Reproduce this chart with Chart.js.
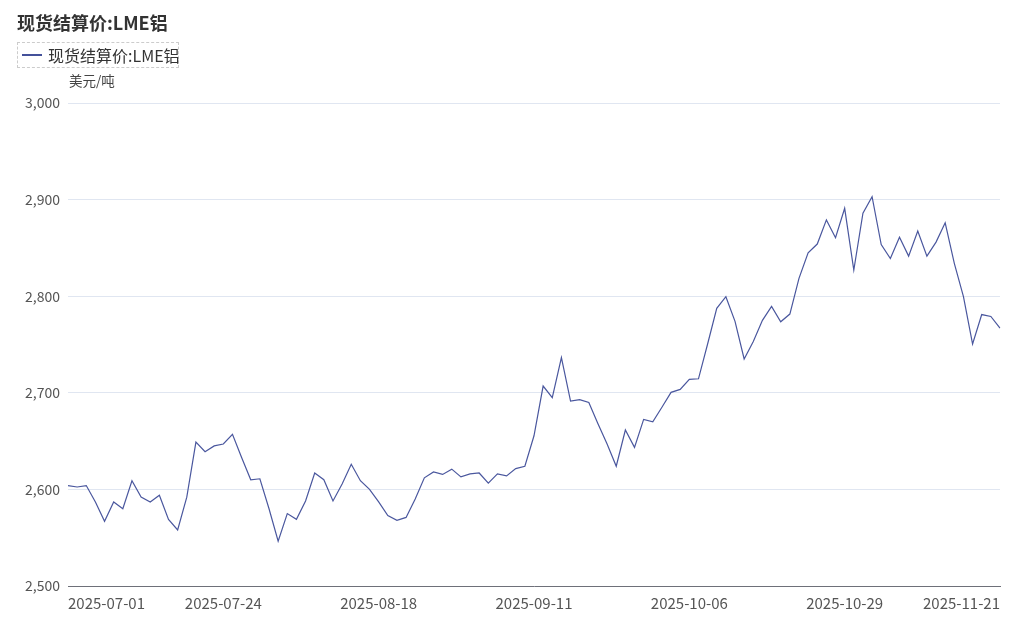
<!DOCTYPE html>
<html>
<head>
<meta charset="utf-8">
<script src="https://cdn.jsdelivr.net/npm/chart.js@4/dist/chart.umd.min.js"></script>
<style>
  body { margin: 0; background: #fff; font-family: "Microsoft YaHei", "Noto Sans CJK SC", sans-serif; }
  #wrap { position: relative; width: 1024px; height: 617px; }
  #title { position: absolute; left: 17px; top: 9px; font-size: 18px; font-weight: bold; color: #333; }
  #legend { position: absolute; left: 17px; top: 42px; width: 160px; height: 24px; border: 1px dashed #ccc; font-size: 16px; color: #333; }
  #legend .mark { position: absolute; left: 4px; top: 11px; width: 20px; height: 2px; background: #44519a; }
  #legend .txt { position: absolute; left: 30px; top: 0px; white-space: nowrap; }
  #unit { position: absolute; left: 69px; top: 70px; font-size: 13.5px; color: #444; }
  canvas { position: absolute; left: 0; top: 0; }
</style>
</head>
<body>
<div id="wrap">
  <canvas id="myChart" width="1024" height="617"></canvas>
  <div id="title">现货结算价:LME铝</div>
  <div id="legend"><div class="mark"></div><div class="txt">现货结算价:LME铝</div></div>
  <div id="unit">美元/吨</div>
</div>
<script>
// trading days, 2025-07-01 .. 2025-11-21
var dates = [
  '2025-07-01','2025-07-02','2025-07-03','2025-07-04','2025-07-07','2025-07-08','2025-07-09','2025-07-10','2025-07-11',
  '2025-07-14','2025-07-15','2025-07-16','2025-07-17','2025-07-18','2025-07-21','2025-07-22','2025-07-23','2025-07-24',
  '2025-07-25','2025-07-28','2025-07-29','2025-07-30','2025-07-31',
  '2025-08-01','2025-08-04','2025-08-05','2025-08-06','2025-08-07','2025-08-08','2025-08-11','2025-08-12','2025-08-13',
  '2025-08-14','2025-08-15','2025-08-18','2025-08-19','2025-08-20','2025-08-21','2025-08-22','2025-08-26','2025-08-27',
  '2025-08-28','2025-08-29',
  '2025-09-01','2025-09-02','2025-09-03','2025-09-04','2025-09-05','2025-09-08','2025-09-09','2025-09-10','2025-09-11',
  '2025-09-12','2025-09-15','2025-09-16','2025-09-17','2025-09-18','2025-09-19','2025-09-22','2025-09-23','2025-09-24',
  '2025-09-25','2025-09-26','2025-09-29','2025-09-30',
  '2025-10-01','2025-10-02','2025-10-03','2025-10-06','2025-10-07','2025-10-08','2025-10-09','2025-10-10','2025-10-13',
  '2025-10-14','2025-10-15','2025-10-16','2025-10-17','2025-10-20','2025-10-21','2025-10-22','2025-10-23','2025-10-24',
  '2025-10-27','2025-10-28','2025-10-29','2025-10-30','2025-10-31',
  '2025-11-03','2025-11-04','2025-11-05','2025-11-06','2025-11-07','2025-11-10','2025-11-11','2025-11-12','2025-11-13',
  '2025-11-14','2025-11-17','2025-11-18','2025-11-19','2025-11-20','2025-11-21'
];

var prices = [
  2604, 2602.5, 2604, 2587, 2567, 2587, 2580, 2609, 2592, 2587, 2594, 2569, 2558, 2592, 2649, 2639, 2645, 2647,
  2657, 2633, 2610, 2611, 2580, 2546.5, 2575, 2569, 2588, 2617, 2610, 2588, 2605.5, 2626, 2609, 2600,
  2587, 2573, 2568, 2571, 2590, 2612, 2618, 2615.5, 2621, 2613, 2616, 2617, 2606.5, 2616, 2614, 2621.5, 2624,
  2655.5, 2707, 2695, 2736.5, 2691.5, 2693, 2690, 2668, 2647, 2624, 2661.5, 2643.5, 2672.5, 2670, 2685, 2700.5, 2703.5,
  2714, 2714.5, 2750.5, 2787.5, 2799.5, 2774, 2735, 2753, 2775, 2789.5, 2773.5, 2781.5, 2818.5, 2845, 2854, 2879, 2860.5,
  2891, 2827, 2886, 2903, 2853.5, 2839, 2861, 2841.5, 2867.5, 2841.5, 2856, 2876, 2834, 2799.5, 2750.5, 2781, 2779, 2767
];

var tickLabels = ['2025-07-01','2025-07-24','2025-08-18','2025-09-11','2025-10-06','2025-10-29','2025-11-21'];

var fontFam = '"Microsoft YaHei", "Noto Sans CJK SC", sans-serif';

const data = {
  labels: dates,
  datasets: [{
    label: '现货结算价:LME铝',
    data: prices,
    borderColor: '#4a579e',
    borderWidth: 1.2,
    pointRadius: 0,
    tension: 0,
    fill: false
  }]
};

const config = {
  type: 'line',
  data: data,
  options: {
    responsive: false,
    animation: false,
    layout: { padding: { top: 103, right: 24, left: 0, bottom: 0 } },
    plugins: {
      legend: { display: false },
      title: { display: false },
      tooltip: { enabled: false }
    },
    scales: {
      x: {
        grid: { display: false },
        border: { display: true, color: '#6e7079', width: 1 },
        ticks: {
          autoSkip: false,
          maxRotation: 0,
          align: 'inner',
          padding: 0,
          color: '#555',
          font: { size: 15, family: fontFam },
          callback: function(val, index) {
            var lab = this.getLabelForValue(val);
            return tickLabels.indexOf(lab) >= 0 ? lab : null;
          }
        },
        afterFit: function(scale) { scale.height = 31; }
      },
      y: {
        min: 2500,
        max: 3000,
        grid: { color: '#e0e6f1', drawTicks: false },
        border: { display: false },
        ticks: {
          stepSize: 100,
          padding: 8,
          color: '#555',
          font: { size: 14, family: fontFam }
        },
        afterFit: function(scale) { scale.width = 68; }
      }
    }
  }
};

const myChart = new Chart(document.getElementById('myChart'), config);
</script>
</body>
</html>
